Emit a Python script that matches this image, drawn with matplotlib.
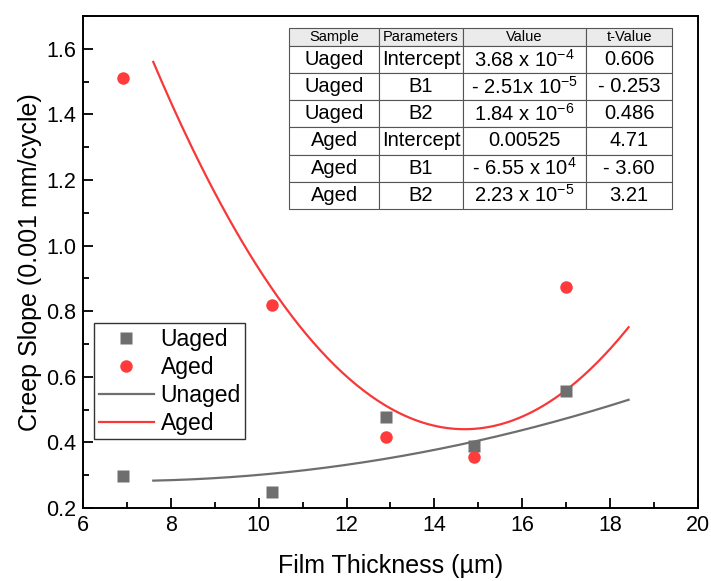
import numpy as np
import matplotlib
matplotlib.use("Agg")
import matplotlib.pyplot as plt
from matplotlib.ticker import MultipleLocator

plt.rcParams["font.family"] = ["Liberation Sans", "DejaVu Sans"]
plt.rcParams["mathtext.default"] = "regular"

# measured data
thickness = [6.9, 10.3, 12.9, 14.9, 17.0]
slope_unaged = [0.297, 0.248, 0.478, 0.390, 0.556]
slope_aged = [1.511, 0.818, 0.415, 0.356, 0.875]

# quadratic fit coefficients (mm/cycle), from the table
coef_unaged = [3.68e-4, -2.51e-5, 1.84e-6]
coef_aged = [0.00525, -6.55e-4, 2.23e-5]
fit_range = (7.6, 18.42)

# table contents
table_header = ["Sample", "Parameters", "Value", "t-Value"]
table_rows = [
    ["Uaged", "Intercept", r"3.68 x 10$^{-4}$", "0.606"],
    ["Uaged", "B1", r"- 2.51x 10$^{-5}$", "- 0.253"],
    ["Uaged", "B2", r"1.84 x 10$^{-6}$", "0.486"],
    ["Aged", "Intercept", "0.00525", "4.71"],
    ["Aged", "B1", r"- 6.55 x 10$^{4}$", "- 3.60"],
    ["Aged", "B2", r"2.23 x 10$^{-5}$", "3.21"],
]

GRAY = "#6e6e6e"
RED = "#ff3b3b"

fig = plt.figure(figsize=(7.11, 5.81), dpi=100)
ax = fig.add_axes([0.1167, 0.1256, 0.8650, 0.8469])

ax.plot(thickness, slope_unaged, "s", color=GRAY, ms=8, mec="none", label="Uaged", zorder=3)
ax.plot(thickness, slope_aged, "o", color=RED, ms=9, mec="none", label="Aged", zorder=3)

xf = np.linspace(fit_range[0], fit_range[1], 200)
yf_un = 1000 * np.polyval(coef_unaged[::-1], xf)
yf_ag = 1000 * np.polyval(coef_aged[::-1], xf)
ax.plot(xf, yf_un, color=GRAY, lw=1.6, label="Unaged", zorder=2)
ax.plot(xf, yf_ag, color="#f83838", lw=1.6, label="Aged", zorder=2)

ax.set_xlim(6, 20)
ax.set_ylim(0.2, 1.7)
ax.xaxis.set_major_locator(MultipleLocator(2))
ax.xaxis.set_minor_locator(MultipleLocator(1))
ax.yaxis.set_major_locator(MultipleLocator(0.2))
ax.yaxis.set_minor_locator(MultipleLocator(0.1))
ax.tick_params(which="both", direction="in", top=False, right=False, width=1.3)
ax.tick_params(which="major", length=7, labelsize=15.5, pad=5)
ax.tick_params(which="minor", length=4)
for s in ax.spines.values():
    s.set_linewidth(1.4)

ax.set_xlabel("Film Thickness (µm)", fontsize=18, labelpad=13)
ax.set_ylabel("Creep Slope (0.001 mm/cycle)", fontsize=18, labelpad=3)

leg = ax.legend(loc="upper left", bbox_to_anchor=(0.018, 0.376), borderaxespad=0,
                fontsize=16.5, frameon=True, fancybox=False, framealpha=1,
                edgecolor="#333333", handlelength=2.4, handletextpad=0.3,
                labelspacing=0.22, borderpad=0.2)
leg.get_frame().set_linewidth(1.0)

# parameter table
tbl = ax.table(cellText=[table_header] + table_rows, cellLoc="center",
               colWidths=[90.3, 83.4, 123.3, 86.0],
               bbox=[0.335, 0.608, 0.623, 0.368], zorder=5)
tbl.auto_set_font_size(False)
for (r, c), cell in tbl.get_celld().items():
    cell.set_edgecolor("#555555")
    cell.set_linewidth(0.8)
    cell.set_height(18 if r == 0 else 27)
    if r == 0:
        cell.set_facecolor("#ebebeb")
        cell.get_text().set_fontsize(10.5)
    else:
        cell.set_facecolor("white")
        cell.get_text().set_fontsize(14.5)

fig.savefig("out.png", dpi=100)
